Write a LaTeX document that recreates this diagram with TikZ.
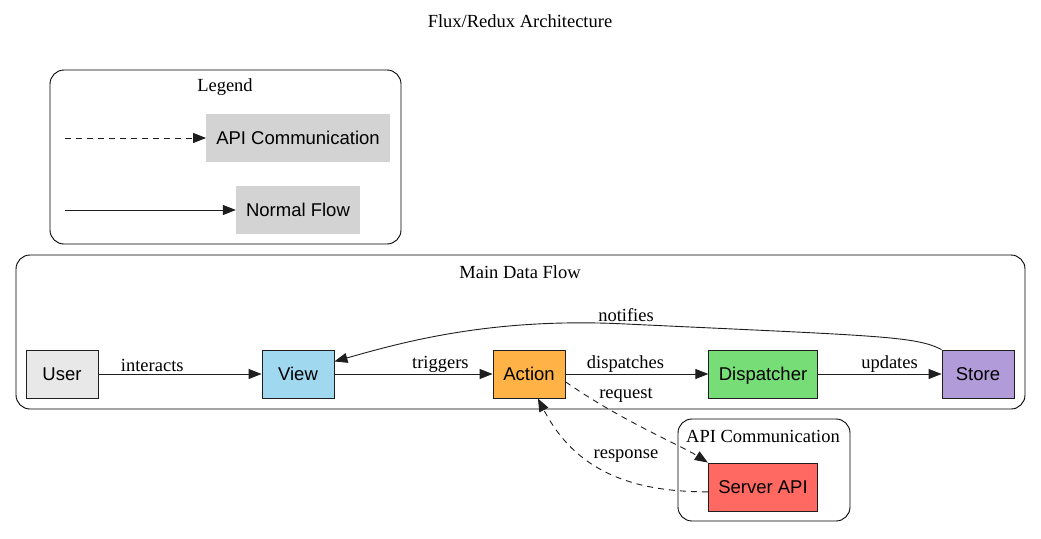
\documentclass[tikz,border=0pt]{standalone}
\usepackage{fontspec}
\setmainfont{Liberation Serif}
\setsansfont{Liberation Sans}
\usetikzlibrary{arrows.meta}
\definecolor{usercol}{RGB}{232,232,232}
\definecolor{viewcol}{RGB}{160,216,239}
\definecolor{actioncol}{RGB}{255,179,71}
\definecolor{dispcol}{RGB}{119,221,119}
\definecolor{storecol}{RGB}{177,156,217}
\definecolor{servercol}{RGB}{255,105,97}
\definecolor{legendcol}{RGB}{211,211,211}
\definecolor{linecol}{RGB}{30,30,30}

\begin{document}
\begin{tikzpicture}[x=1pt,y=-1pt]
    \tikzstyle{box}=[rectangle,draw=linecol,line width=0.9pt,minimum width=72pt,minimum height=48pt,inner xsep=10pt,text height=13pt,text depth=0pt,font=\sffamily\fontsize{18.5}{22}\selectfont]
    \tikzstyle{legendbox}=[rectangle,fill=legendcol,minimum height=48pt,inner xsep=10pt,text height=13pt,text depth=0pt,font=\sffamily\fontsize{18.5}{22}\selectfont]
    \tikzstyle{cluster}=[draw,line width=0.9pt,rounded corners=14pt]
    \tikzstyle{title}=[font=\fontsize{18.5}{22}\selectfont]
    \tikzstyle{lbl}=[above,inner sep=1.5pt,font=\fontsize{18.5}{22}\selectfont]
    \tikzstyle{flow}=[draw=linecol,line width=0.9pt,-{Triangle[length=13pt,width=10pt]}]
    \tikzstyle{api}=[flow,dash pattern=on 6pt off 5pt]
    \useasboundingbox (0,0) rectangle (1041,538);
    \node (maintitle) at (520,21) [title] {Flux/Redux Architecture};
    % legend
    \draw [cluster] (50,70) rectangle (401,244);
    \node (legendtitle) at (225,87) [title] {Legend};
    \coordinate (apistart) at (65,138);
    \coordinate (normstart) at (65,210);
    \node (apibox)  at (298,138) [legendbox] {API Communication};
    \node (normbox) at (298,210) [legendbox] {Normal Flow};
    \draw [api]  (apistart)  -- (apibox);
    \draw [flow] (normstart) -- (normbox);
    % main data flow
    \draw [cluster] (16,255) rectangle (1025,409);
    \node (maintitle2) at (520,272) [title] {Main Data Flow};
    \node (user)       at (62,374)  [box,fill=usercol]   {User};
    \node (view)       at (298,374) [box,fill=viewcol]   {View};
    \node (action)     at (529,374) [box,fill=actioncol] {Action};
    \node (dispatcher) at (763,374) [box,fill=dispcol]   {Dispatcher};
    \node (store)      at (978,374) [box,fill=storecol]  {Store};
    % api communication
    \draw [cluster] (678,419) rectangle (850,521);
    \node (apititle) at (763,436) [title] {API Communication};
    \node (server)   at (763,487) [box,fill=servercol] {Server API};
    \draw [flow] (user)       -- (view)       node [lbl,pos=0.33] {interacts};
    \draw [flow] (view)       -- (action)     node [lbl,pos=0.67] {triggers};
    \draw [flow] (action)     -- (dispatcher) node [lbl,pos=0.42] {dispatches};
    \draw [flow] (dispatcher) -- (store)      node [lbl,pos=0.58] {updates};
    \coordinate (notifytop) at (626,324);
    \draw [flow] (store.north west) .. controls (915,336) and (880,336) .. (notifytop) node [lbl] {notifies}
        .. controls (490,317) and (400,343) .. (view.19);
    \draw [api] (action.-12) .. controls (620,420) and (680,445) .. (server.north west);
    \node (requestlbl) at (626,395) [title] {request};
    \draw [api] (server.185) .. controls (630,492) and (575,470) .. (action.290);
    \node (responselbl) at (626,456) [title] {response};
\end{tikzpicture}
\end{document}
